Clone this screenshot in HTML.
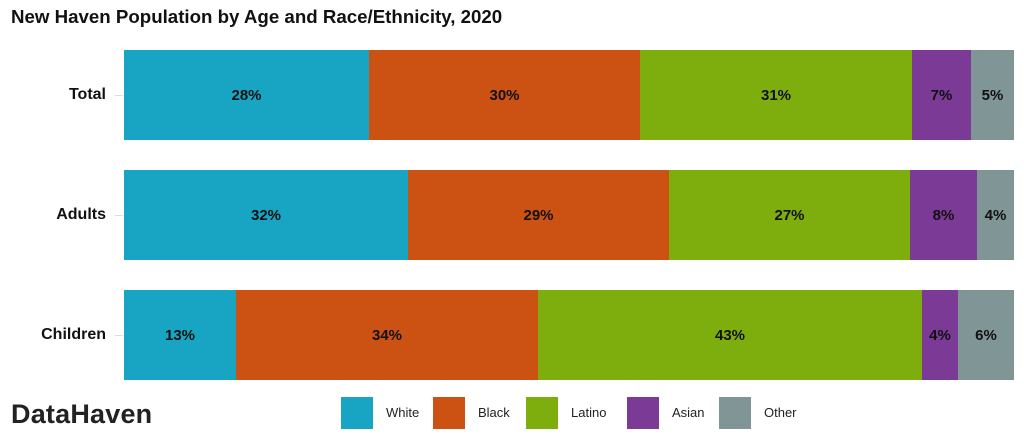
<!DOCTYPE html>
<html><head><style>
body{margin:0;width:1024px;height:439px;background:#fff;font-family:"Liberation Sans",sans-serif;position:relative;overflow:hidden}
.a{position:absolute}
.s{position:absolute;display:flex;align-items:center;justify-content:center;font-weight:bold;font-size:15px;color:#111}
.l{position:absolute;right:918px;font-weight:bold;font-size:16px;color:#111}
.t{position:absolute;left:115px;width:8px;height:1px;background:#ddd}
.lg{position:absolute;top:397px;width:32px;height:32px}
.lt{position:absolute;top:405px;font-size:13px;color:#222}
</style></head><body>
<div class="a" style="left:11px;top:6px;font-size:18.7px;font-weight:bold;color:#111">New Haven Population by Age and Race/Ethnicity, 2020</div>

<div class="l" style="top:86px">Total</div><div class="t" style="top:95px"></div>
<div class="l" style="top:206px">Adults</div><div class="t" style="top:215px"></div>
<div class="l" style="top:326px">Children</div><div class="t" style="top:335px"></div>

<div class="s" style="left:124px;top:50px;width:245px;height:90px;background:#17a5c3">28%</div>
<div class="s" style="left:369px;top:50px;width:271px;height:90px;background:#cc5214">30%</div>
<div class="s" style="left:640px;top:50px;width:272px;height:90px;background:#7eae0e">31%</div>
<div class="s" style="left:912px;top:50px;width:59px;height:90px;background:#7b3a96">7%</div>
<div class="s" style="left:971px;top:50px;width:43px;height:90px;background:#7f9596">5%</div>

<div class="s" style="left:124px;top:170px;width:284px;height:90px;background:#17a5c3">32%</div>
<div class="s" style="left:408px;top:170px;width:261px;height:90px;background:#cc5214">29%</div>
<div class="s" style="left:669px;top:170px;width:241px;height:90px;background:#7eae0e">27%</div>
<div class="s" style="left:910px;top:170px;width:67px;height:90px;background:#7b3a96">8%</div>
<div class="s" style="left:977px;top:170px;width:37px;height:90px;background:#7f9596">4%</div>

<div class="s" style="left:124px;top:290px;width:112px;height:90px;background:#17a5c3">13%</div>
<div class="s" style="left:236px;top:290px;width:302px;height:90px;background:#cc5214">34%</div>
<div class="s" style="left:538px;top:290px;width:384px;height:90px;background:#7eae0e">43%</div>
<div class="s" style="left:922px;top:290px;width:36px;height:90px;background:#7b3a96">4%</div>
<div class="s" style="left:958px;top:290px;width:56px;height:90px;background:#7f9596">6%</div>

<div class="a" style="left:11px;top:399px;font-size:27px;font-weight:bold;color:#222;letter-spacing:0.2px">DataHaven</div>

<div class="lg" style="left:341px;background:#17a5c3"></div><div class="lt" style="left:386px">White</div>
<div class="lg" style="left:433px;background:#cc5214"></div><div class="lt" style="left:478px">Black</div>
<div class="lg" style="left:526px;background:#7eae0e"></div><div class="lt" style="left:571px">Latino</div>
<div class="lg" style="left:627px;background:#7b3a96"></div><div class="lt" style="left:672px">Asian</div>
<div class="lg" style="left:719px;background:#7f9596"></div><div class="lt" style="left:764px">Other</div>
</body></html>
